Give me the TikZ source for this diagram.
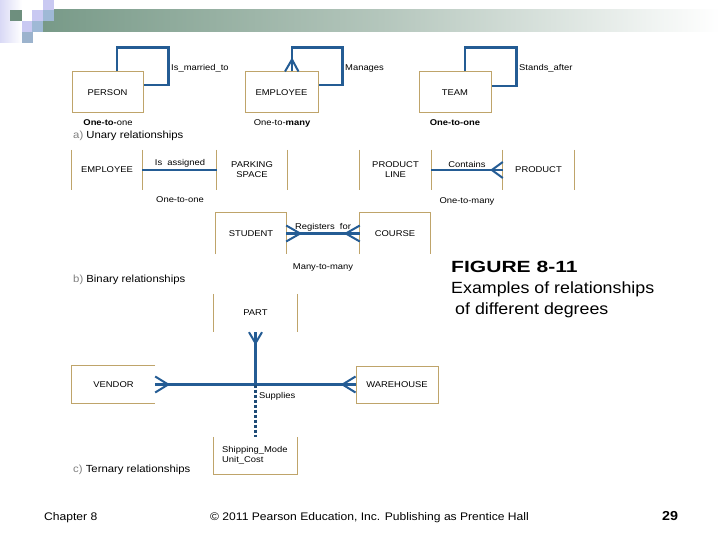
\documentclass[tikz,border=0pt]{standalone}
\usepackage{fontspec}
\setmainfont[FakeStretch=1.1]{Liberation Sans}
\newfontfamily\labf[FakeStretch=1.12]{Liberation Sans}
\newfontfamily\figb[FakeStretch=1.3]{Liberation Sans}
\definecolor{boxc}{HTML}{BFA46A}
\definecolor{linec}{HTML}{245C94}
\definecolor{hdr}{HTML}{789A88}
\definecolor{hdrmid}{HTML}{B4C6BC}
\definecolor{lav}{HTML}{C9C9F2}
\definecolor{blu}{HTML}{9FB9D6}
\definecolor{dgr}{HTML}{6E8F7E}
\tikzset{
  ent/.style={font=\labf\fontsize{8.4}{10}\selectfont, inner sep=0pt, align=center},
  lab/.style={font=\labf\fontsize{8.4}{10}\selectfont, inner sep=0pt},
  sec/.style={font=\fontsize{10.3}{12}\selectfont, inner sep=0pt, anchor=west},
  fig/.style={font=\fontsize{16.2}{19}\selectfont, inner sep=0pt, anchor=west},
  foot/.style={font=\fontsize{11}{13}\selectfont, inner sep=0pt},
  bx/.style={draw=boxc, line width=1pt},
  rel/.style={draw=linec, line width=2.3pt},
  crow/.style={draw=linec, line width=2pt}
}
\begin{document}
\begin{tikzpicture}[x=1pt,y=-1pt]
\useasboundingbox (0,0) rectangle (720,540);
\fill[white] (0,0) rectangle (720,540);
% header decoration
\shade[left color=lav!70, right color=white] (0,0) rectangle (22,43);
\shade[left color=hdr, right color=white, middle color=hdrmid] (43,10) rectangle (720,32);
\fill[dgr] (10,10) rectangle (22,21);
\fill[lav] (32,10) rectangle (43,21);
\fill[blu] (43,10) rectangle (54,21);
\fill[lav] (43,0) rectangle (54,10);
\fill[lav] (22,21) rectangle (32,32);
\fill[blu] (32,21) rectangle (43,32);
\fill[blu!90!gray] (22,32) rectangle (33,43);

% ---------- Unary ----------
\node[ent, bx, minimum width=71pt, minimum height=41pt] (person) at (107.5,92.5) {PERSON};
\node[ent, bx, minimum width=73pt, minimum height=41pt] (emp1) at (281.5,92.5) {EMPLOYEE};
\node[ent, bx, minimum width=72pt, minimum height=41pt] (team) at (455,92.5) {TEAM};

\draw[rel] ([xshift=9.5pt]person.north) -- ++(0,-24) -| ([xshift=25pt,yshift=7.5pt]person.east) -- ([yshift=7.5pt]person.east);
\draw[rel] ([xshift=10.5pt]emp1.north) -- ++(0,-24) -| ([xshift=24pt,yshift=7.5pt]emp1.east) -- ([yshift=7.5pt]emp1.east);
\draw[crow] ([xshift=3.5pt]emp1.north) -- ([xshift=10.5pt,yshift=12pt]emp1.north) -- ([xshift=17pt]emp1.north);
\draw[rel] ([xshift=10pt]team.north) -- ++(0,-24) -| ([xshift=25pt,yshift=6.5pt]team.east) -- ([yshift=6.5pt]team.east);

\node[lab, anchor=west] (l1) at (171,68) {Is\_married\_to};
\node[lab, anchor=west] (l2) at (345,68) {Manages};
\node[lab, anchor=west] (l3) at (519,68) {Stands\_after};
\node[lab] (c1) at (108,123) {\textbf{One-to-}one};
\node[lab] (c2) at (282,123) {One-to-\textbf{many}};
\node[lab] (c3) at (455,123) {\textbf{One-to-one}};
\node[sec] (sa) at (73,136) {\textcolor{gray}{a)} Unary relationships};

% ---------- Binary ----------
\node[ent, minimum width=70pt, minimum height=40pt] (emp2) at (107,170) {EMPLOYEE};
\node[ent, minimum width=70pt, minimum height=40pt] (park) at (252,170) {PARKING\\SPACE};
\node[ent, minimum width=71pt, minimum height=40pt] (pline) at (395.5,170) {PRODUCT\\LINE};
\node[ent, minimum width=71pt, minimum height=40pt] (prod) at (538.5,170) {PRODUCT};
\foreach \n in {emp2,park,pline,prod}{
  \draw[bx] (\n.north west) -- (\n.south west);
  \draw[bx] (\n.north east) -- (\n.south east);
}
\draw[rel] (emp2.east) -- (park.west);
\draw[rel] (pline.east) -- (prod.west);
\draw[crow] ([yshift=8pt]prod.west) -- ([xshift=-11pt]prod.west) -- ([yshift=-8pt]prod.west);
\node[lab] (l4) at (180,163) {Is\ \ assigned};
\node[lab] (c4) at (180,200) {One-to-one};
\node[lab] (l5) at (467,164) {Contains};
\node[lab] (c5) at (467,201) {One-to-many};

\node[ent, minimum width=70pt, minimum height=41pt] (stud) at (251,233.5) {STUDENT};
\node[ent, minimum width=70pt, minimum height=41pt] (course) at (395,233.5) {COURSE};
\foreach \n in {stud,course}{
  \draw[bx] (\n.south west) -- (\n.north west) -- (\n.north east) -- (\n.south east);
}
\draw[rel] (stud.east) -- (course.west);
\draw[crow] ([yshift=8pt]stud.east) -- ([xshift=14pt]stud.east) -- ([yshift=-8pt]stud.east);
\draw[crow] ([yshift=8pt]course.west) -- ([xshift=-14pt]course.west) -- ([yshift=-8pt]course.west);
\node[lab] (l6) at (323,227) {Registers\ \ for};
\node[lab] (c6) at (323,267) {Many-to-many};
\node[sec] (sb) at (73,280) {\textcolor{gray}{b)} Binary relationships};

% ---------- Ternary ----------
\node[ent, minimum width=83pt, minimum height=38pt] (part) at (255.5,313) {PART};
\node[ent, minimum width=83pt, minimum height=37pt] (vendor) at (113.5,384.5) {VENDOR};
\node[ent, bx, minimum width=82pt, minimum height=37pt] (wh) at (397,384.5) {WAREHOUSE};
\node[ent, minimum width=83pt, minimum height=37pt] (ship) at (255.5,455.5) {};
\node[ent, anchor=west, align=left] (shiptxt) at (222,455.5) {Shipping\_Mode\\Unit\_Cost};
\draw[bx] (part.north west) -- (part.south west);
\draw[bx] (part.north east) -- (part.south east);
\draw[bx] (vendor.north east) -- (vendor.north west) -- (vendor.south west) -- (vendor.south east);
\draw[bx] (ship.north west) -- (ship.south west) -- (ship.south east) -- (ship.north east);

\coordinate (j) at (part.south |- vendor.east);
\draw[rel] (vendor.east) -- (wh.west);
\draw[rel] (part.south) -- (j);
\draw[draw=linec!80!black, line width=2.3pt, dash pattern=on 3pt off 2pt] (j) -- (ship.north);
\draw[crow] ([xshift=-6.5pt]part.south) -- ([yshift=-11pt]part.south) -- ([xshift=6.5pt]part.south);
\draw[crow] ([yshift=8pt]vendor.east) -- ([xshift=13pt]vendor.east) -- ([yshift=-8pt]vendor.east);
\draw[crow] ([yshift=8pt]wh.west) -- ([xshift=-13pt]wh.west) -- ([yshift=-8pt]wh.west);
\node[lab, anchor=west] (l7) at (259,396) {Supplies};
\node[sec] (sc) at (73,470) {\textcolor{gray}{c)} Ternary relationships};

% ---------- caption ----------
\node[fig] (f1) at (451,267) {\figb\bfseries FIGURE 8-11};
\node[fig] (f2) at (451,289) {Examples of relationships};
\node[fig] (f3) at (455,310) {of different degrees};

% ---------- footer ----------
\node[foot, anchor=west] (ch) at (44,518) {Chapter 8};
\node[foot] (cp) at (369.5,518) {© 2011 Pearson Education, Inc. Publishing as Prentice Hall};
\node[foot] (pg) at (670,516) {\fontsize{13}{15}\selectfont\bfseries 29};
\end{tikzpicture}
\end{document}
